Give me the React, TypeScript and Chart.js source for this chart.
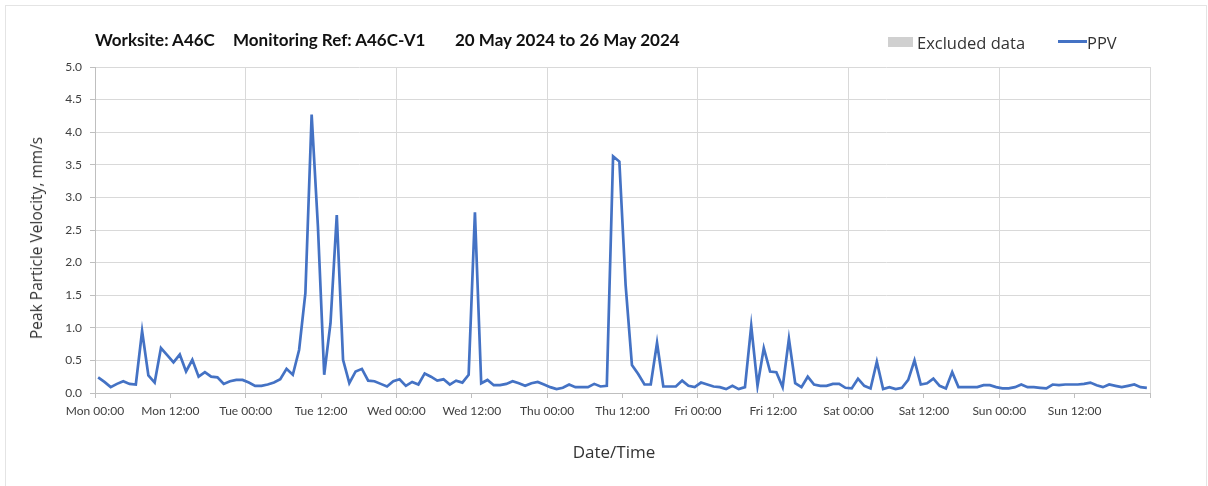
import React, { useEffect, useRef } from "react";
import { Chart, registerables } from "chart.js";

Chart.register(...registerables);

// ---- Data (hourly PPV, mm/s) ----
const dayNames = ["Mon", "Tue", "Wed", "Thu", "Fri", "Sat", "Sun"];
const tickTimes = ["00:00", "12:00"];
const yTicks = [0, 0.5, 1, 1.5, 2, 2.5, 3, 3.5, 4, 4.5, 5];

const monPPV = [0.24, 0.17, 0.09, 0.14, 0.18, 0.14, 0.13, 0.95, 0.27, 0.16, 0.69, 0.58, 0.47, 0.59, 0.33, 0.51, 0.25, 0.32, 0.25, 0.24, 0.14, 0.18, 0.2, 0.2];
const tuePPV = [0.16, 0.11, 0.11, 0.13, 0.16, 0.21, 0.37, 0.28, 0.66, 1.53, 4.27, 2.55, 0.28, 1.07, 2.73, 0.51, 0.15, 0.33, 0.37, 0.19, 0.18, 0.14, 0.1, 0.18];
const wedPPV = [0.21, 0.11, 0.17, 0.13, 0.3, 0.25, 0.19, 0.21, 0.13, 0.19, 0.16, 0.28, 2.77, 0.15, 0.2, 0.12, 0.12, 0.14, 0.18, 0.15, 0.11, 0.15, 0.17, 0.13];
const thuPPV = [0.09, 0.06, 0.08, 0.13, 0.09, 0.09, 0.09, 0.14, 0.1, 0.11, 3.63, 3.55, 1.65, 0.43, 0.29, 0.13, 0.13, 0.77, 0.1, 0.1, 0.1, 0.19, 0.11, 0.09];
const friPPV = [0.16, 0.13, 0.1, 0.09, 0.06, 0.11, 0.06, 0.09, 1.03, 0.11, 0.69, 0.33, 0.32, 0.09, 0.83, 0.15, 0.09, 0.25, 0.13, 0.11, 0.11, 0.14, 0.14, 0.08];
const satPPV = [0.07, 0.22, 0.11, 0.07, 0.48, 0.06, 0.09, 0.06, 0.08, 0.2, 0.5, 0.13, 0.15, 0.22, 0.11, 0.07, 0.32, 0.09, 0.09, 0.09, 0.09, 0.12, 0.12, 0.09];
const sunPPV = [0.07, 0.07, 0.09, 0.13, 0.09, 0.09, 0.08, 0.07, 0.13, 0.12, 0.13, 0.13, 0.13, 0.14, 0.16, 0.12, 0.09, 0.13, 0.11, 0.09, 0.11, 0.13, 0.09, 0.08];

const weekPPV = [monPPV, tuePPV, wedPPV, thuPPV, friPPV, satPPV, sunPPV];

const titleParts = ["Worksite: A46C", "Monitoring Ref: A46C-V1", "20 May 2024 to 26 May 2024"];
const legendLabels = ["Excluded data", "PPV"];
const xTitle = "Date/Time";
const yTitle = "Peak Particle Velocity, mm/s";

const LINE_COLOR = "#4472C4";
const GRID_COLOR = "#d9d9d9";
const AXIS_COLOR = "#bfbfbf";
const TEXT_COLOR = "#404040";
const LABEL_COLOR = "#333333";

export default function App() {
  const canvasRef = useRef<HTMLCanvasElement | null>(null);

  useEffect(() => {
    if (!canvasRef.current) return;
    const points: { x: number; y: number }[] = [];
    weekPPV.forEach((day, d) => {
      day.forEach((v, h) => {
        points.push({ x: d * 24 + h + 0.5, y: v });
      });
    });
    const chart = new Chart(canvasRef.current, {
      type: "line",
      data: {
        datasets: [
          {
            label: legendLabels[1],
            data: points,
            borderColor: LINE_COLOR,
            backgroundColor: LINE_COLOR,
            borderWidth: 2.7,
            pointRadius: 0,
            tension: 0,
            fill: false,
          },
        ],
      },
      options: {
        responsive: false,
        animation: false,
        devicePixelRatio: 1,
        layout: { padding: { left: 0, top: 67, right: 58, bottom: 0 } },
        plugins: {
          legend: { display: false },
          title: { display: false },
          tooltip: { enabled: false },
        },
        scales: {
          x: {
            type: "linear",
            min: 0,
            max: 168,
            afterFit: (s: any) => {
              s.height = 93;
            },
            ticks: {
              stepSize: 12,
              autoSkip: false,
              maxRotation: 0,
              minRotation: 0,
              padding: 6,
              color: TEXT_COLOR,
              font: { family: "Lato", size: 12 },
              callback: (value: any) => {
                const v = Number(value);
                if (v >= 168) return "";
                const d = Math.floor(v / 24);
                const t = tickTimes[(v % 24) / 12];
                return `${dayNames[d]} ${t}`;
              },
            },
            grid: {
              color: (ctx: any) =>
                ctx.tick && ctx.tick.value % 24 === 0 ? GRID_COLOR : "rgba(0,0,0,0)",
              tickColor: AXIS_COLOR,
              tickLength: 5,
              lineWidth: 1,
            },
            border: { color: AXIS_COLOR, width: 1 },
          },
          y: {
            type: "linear",
            min: yTicks[0],
            max: yTicks[yTicks.length - 1],
            afterFit: (s: any) => {
              s.width = 95;
            },
            afterBuildTicks: (s: any) => {
              s.ticks = yTicks.map((v) => ({ value: v }));
            },
            ticks: {
              padding: 8,
              color: TEXT_COLOR,
              font: { family: "Lato", size: 12 },
              callback: (value: any) => Number(value).toFixed(1),
            },
            grid: {
              color: GRID_COLOR,
              tickColor: AXIS_COLOR,
              tickLength: 5,
              lineWidth: 1,
            },
            border: { color: AXIS_COLOR, width: 1 },
          },
        },
      },
    });
    return () => chart.destroy();
  }, []);

  const textBase: React.CSSProperties = {
    position: "absolute",
    whiteSpace: "pre",
    lineHeight: 1,
  };

  return (
    <div
      style={{
        position: "fixed",
        left: 0,
        top: 0,
        width: 1208,
        height: 486,
        background: "#ffffff",
        overflow: "hidden",
      }}
    >
      <div
        style={{
          position: "absolute",
          left: 5,
          top: 5,
          width: 1202,
          height: 482,
          border: "1px solid #e4e4e4",
          boxSizing: "border-box",
        }}
      />
      <canvas ref={canvasRef} width={1208} height={486} style={{ position: "absolute", left: 0, top: 0 }} />
      {/* Title */}
      {[95, 233, 455].map((x, i) => (
        <span
          key={i}
          style={{
            ...textBase,
            left: x,
            top: 29,
            font: 'bold 17px "Lato"',
            color: "#111111",
          }}
        >
          {titleParts[i]}
        </span>
      ))}
      {/* Legend */}
      <div style={{ position: "absolute", left: 888, top: 37, width: 25, height: 10, background: "#d0d0d0" }} />
      <span style={{ ...textBase, left: 917, top: 31, font: '16.5px "Open Sans"', color: LABEL_COLOR }}>
        {legendLabels[0]}
      </span>
      <div style={{ position: "absolute", left: 1058, top: 40, width: 29, height: 2.7, background: LINE_COLOR }} />
      <span style={{ ...textBase, left: 1087, top: 31, font: '16.5px "Open Sans"', color: LABEL_COLOR }}>
        {legendLabels[1]}
      </span>
      {/* Axis titles */}
      <span
        style={{
          ...textBase,
          left: 614,
          top: 451,
          transform: "translate(-50%, -50%)",
          font: '17px "Open Sans"',
          color: LABEL_COLOR,
        }}
      >
        {xTitle}
      </span>
      <span
        style={{
          ...textBase,
          left: 36,
          top: 238,
          transform: "translate(-50%, -50%) rotate(-90deg)",
          font: '15.5px "Open Sans"',
          color: LABEL_COLOR,
        }}
      >
        {yTitle}
      </span>
    </div>
  );
}
